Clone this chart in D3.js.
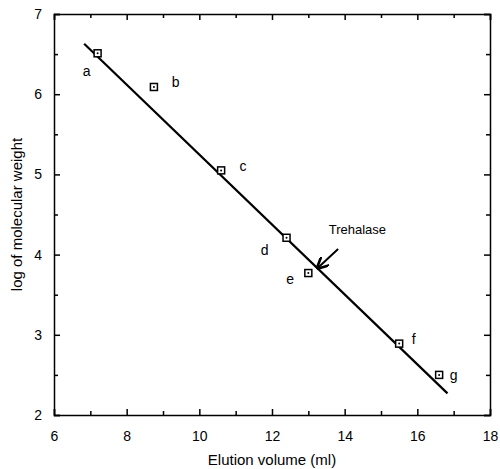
<!DOCTYPE html>
<meta charset="utf-8">
<style>
body { margin: 0; background: white; font-family: "Liberation Sans", Arial, sans-serif; }
.axis path, .axis line { stroke: black; stroke-width: 1.5px; }
.axis text { font-size: 14px; fill: black; font-family: "Liberation Sans", Arial, sans-serif; }
.fit { fill: none; stroke: black; stroke-width: 2.2px; }
.marker { fill: white; stroke: black; stroke-width: 1.5px; }
.lbl { font-size: 14px; }
</style>
<body>
<svg width="500" height="469"></svg>
<script src="https://d3js.org/d3.v7.min.js"></script>
<script>
// standards
var names   = ["a", "b", "c", "d", "e", "f", "g"];
var elution = [7.2, 8.75, 10.6, 12.4, 13.0, 15.5, 16.6];
var logMW   = [6.51, 6.09, 5.05, 4.21, 3.77, 2.89, 2.50];
// label offsets in data units (x, y)
var labelDx = [-0.3, 0.6, 0.6, -0.6, -0.5, 0.4, 0.4];
var labelDy = [-0.22, 0.06, 0.05, -0.15, -0.07, 0.06, 0.00];

// regression line end points
var fitX = [6.83, 16.83];
var fitY = [6.63, 2.27];

var xTicks = [6, 8, 10, 12, 14, 16, 18];
var xMinor = [7, 9, 11, 13, 15, 17];
var yTicks = [2, 3, 4, 5, 6, 7];
var yMinor = [2.5, 3.5, 4.5, 5.5, 6.5];

var svg = d3.select("svg"),
    margin = {top: 14, right: 10, bottom: 54, left: 54},
    width = 500 - margin.left - margin.right,
    height = 469 - margin.top - margin.bottom,
    g = svg.append("g").attr("transform", "translate(" + margin.left + "," + margin.top + ")");

var x = d3.scaleLinear().domain([6, 18]).range([0, width]),
    y = d3.scaleLinear().domain([2, 7]).range([height, 0]);

// inward ticks on all four sides
g.append("g").attr("class", "axis")
    .attr("transform", "translate(0," + height + ")")
    .call(d3.axisBottom(x).tickValues(xTicks).tickSize(-6).tickPadding(16).tickFormat(d3.format("d")));
g.append("g").attr("class", "axis")
    .attr("transform", "translate(0," + height + ")")
    .call(d3.axisBottom(x).tickValues(xMinor).tickSize(-4).tickFormat(""))
    .select(".domain").remove();
g.append("g").attr("class", "axis")
    .call(d3.axisTop(x).tickValues(xTicks).tickSize(-6).tickFormat(""));
g.append("g").attr("class", "axis")
    .call(d3.axisTop(x).tickValues(xMinor).tickSize(-4).tickFormat(""))
    .select(".domain").remove();

g.append("g").attr("class", "axis")
    .call(d3.axisLeft(y).tickValues(yTicks).tickSize(-6).tickPadding(12).tickFormat(d3.format("d")));
g.append("g").attr("class", "axis")
    .call(d3.axisLeft(y).tickValues(yMinor).tickSize(-4).tickFormat(""))
    .select(".domain").remove();
g.append("g").attr("class", "axis")
    .attr("transform", "translate(" + width + ",0)")
    .call(d3.axisRight(y).tickValues(yTicks).tickSize(-6).tickFormat(""));
g.append("g").attr("class", "axis")
    .attr("transform", "translate(" + width + ",0)")
    .call(d3.axisRight(y).tickValues(yMinor).tickSize(-4).tickFormat(""))
    .select(".domain").remove();

g.selectAll(".axis .domain").attr("stroke-width", 2);

// fitted line
var line = d3.line()
    .x(function(d) { return x(d[0]); })
    .y(function(d) { return y(d[1]); });
g.append("path")
    .attr("class", "fit")
    .attr("d", line(d3.zip(fitX, fitY)));

// points
var pts = d3.range(names.length);
g.selectAll(".marker")
    .data(pts)
  .enter().append("rect")
    .attr("class", "marker")
    .attr("x", function(i) { return x(elution[i]) - 3.5; })
    .attr("y", function(i) { return y(logMW[i]) - 3.5; })
    .attr("width", 7)
    .attr("height", 7);
g.selectAll(".dot")
    .data(pts)
  .enter().append("circle")
    .attr("cx", function(i) { return x(elution[i]); })
    .attr("cy", function(i) { return y(logMW[i]); })
    .attr("r", 1)
    .attr("fill", "black");

g.selectAll(".lbl")
    .data(pts)
  .enter().append("text")
    .attr("class", "lbl")
    .attr("x", function(i) { return x(elution[i] + labelDx[i]); })
    .attr("y", function(i) { return y(logMW[i] + labelDy[i]); })
    .attr("dy", "0.35em")
    .attr("text-anchor", "middle")
    .text(function(i) { return names[i]; });

// Trehalase annotation
var arrowTip = [13.25, 3.83];
var arrowTail = [13.82, 4.07];
svg.append("defs").append("marker")
    .attr("id", "head")
    .attr("viewBox", "0 0 10 10")
    .attr("refX", 9).attr("refY", 5)
    .attr("markerWidth", 6).attr("markerHeight", 6)
    .attr("orient", "auto")
  .append("path")
    .attr("d", "M0,0 L10,5 L0,10")
    .attr("fill", "none")
    .attr("stroke", "black")
    .attr("stroke-width", 2.2);
g.append("line")
    .attr("x1", x(arrowTail[0])).attr("y1", y(arrowTail[1]))
    .attr("x2", x(arrowTip[0])).attr("y2", y(arrowTip[1]))
    .attr("stroke", "black")
    .attr("stroke-width", 2)
    .attr("marker-end", "url(#head)");
g.append("text")
    .attr("x", x(14.35))
    .attr("y", y(4.26))
    .attr("text-anchor", "middle")
    .style("font-size", "13px")
    .text("Trehalase");

// axis titles
svg.append("text")
    .attr("x", margin.left + width / 2)
    .attr("y", 465)
    .attr("text-anchor", "middle")
    .style("font-size", "15px")
    .text("Elution volume (ml)");
svg.append("text")
    .attr("transform", "translate(22," + (margin.top + height / 2) + ") rotate(-90)")
    .attr("text-anchor", "middle")
    .style("font-size", "15px")
    .text("log of molecular weight");
</script>
</body>
